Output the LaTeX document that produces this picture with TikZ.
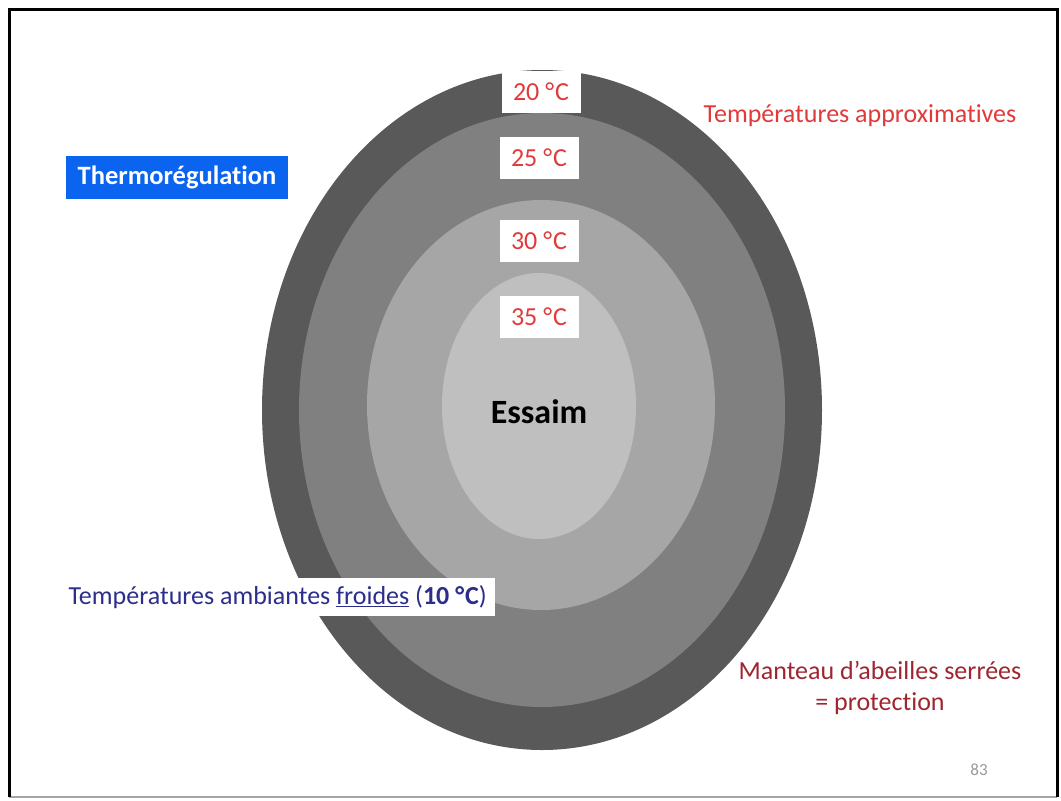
\documentclass[tikz,border=0pt]{standalone}
\usepackage{fontspec}
\setmainfont{Carlito}[Ligatures=NoCommon]
\usetikzlibrary{positioning}

\definecolor{tempred}{RGB}{224,58,58}
\definecolor{coatred}{RGB}{158,38,48}
\definecolor{coldblue}{RGB}{44,46,140}
\definecolor{titleblue}{RGB}{10,100,240}

\newcommand{\degc}{°\kern1pt C}

\begin{document}
\begin{tikzpicture}[x=1pt,y=-1pt,
  zone/.style={draw=none},
  temp/.style={fill=white,text=tempred,font=\fontsize{26}{30}\selectfont,
    minimum width=79pt,minimum height=42pt,inner sep=0pt},
  note/.style={font=\fontsize{26}{31}\selectfont,inner sep=0pt}]

  \useasboundingbox (0,0) rectangle (1061,801);
  \fill[white] (0,0) rectangle (1061,801);

  % frame of the slide
  \draw[gray!70,line width=1.5pt] (9,797) -- (1057,797);
  \draw[black,line width=3pt] (9,797) -- (9,9) -- (1057,9) -- (1057,797);

  % the four layers of the cluster
  \fill[zone,fill=black!65] (542,410) ellipse [x radius=280, y radius=340];
  \fill[zone,fill=black!50] (542,410) ellipse [x radius=243, y radius=297];
  \fill[zone,fill=black!35] (541,405) ellipse [x radius=174, y radius=205];
  \fill[zone,fill=black!25] (539,406) ellipse [x radius=97, y radius=133];

  \node[temp] (t20) at (541,92) {20 \degc};
  \node[temp] (t25) at (539,158) {25 \degc};
  \node[temp] (t30) at (539,241) {30 \degc};
  \node[temp] (t35) at (539,317) {35 \degc};

  \node[font=\fontsize{34}{40}\selectfont\bfseries] (essaim) at (539,412) {Essaim};

  \node[fill=titleblue,text=white,font=\fontsize{26.5}{30}\selectfont\bfseries,
    minimum width=222pt,minimum height=43pt,inner sep=0pt] (titre) at (177,177) {Thermorégulation};

  \node[note,text=tempred] (approx) at (860,116) {Températures approximatives};

  \node[note,fill=white,text=coldblue,inner xsep=8pt,minimum height=38pt,anchor=east]
    (froid) at (495,597) {Températures ambiantes \underline{froides} (\textbf{10 \degc})};

  \node[note,text=coatred,align=center] (manteau) at (880,688)
    {Manteau d’abeilles serrées\\= protection};

  \node[text=black!40,font=\fontsize{17}{19}\selectfont] (page) at (979,770) {83};
\end{tikzpicture}
\end{document}
